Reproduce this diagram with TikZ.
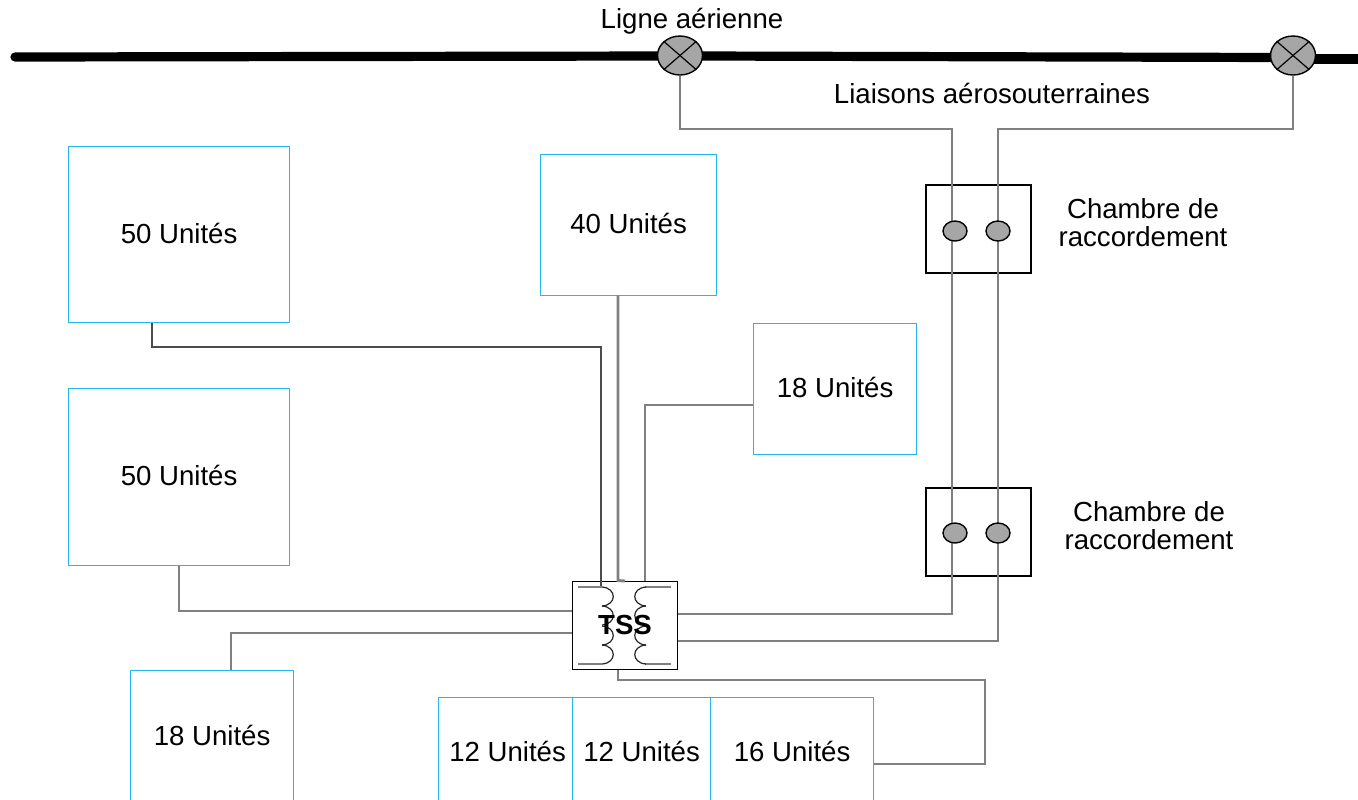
\documentclass[tikz,border=0pt]{standalone}
\usepackage{fontspec}
\setmainfont{Liberation Sans}
\usepackage{tikz}
\usetikzlibrary{shapes.geometric}
\definecolor{gris}{HTML}{808080}
\definecolor{contour}{HTML}{29B6EC}
\definecolor{rempli}{HTML}{A6A6A6}
\newcommand{\etiq}[3]{\hspace{#1}\raisebox{#2}{#3}}

\begin{document}
\begin{tikzpicture}[
	x=0.5pt, y=-0.5pt,
	% styles communs du schéma
	every node/.style={font=\fontsize{13.8}{14}\selectfont},
	unite/.style={draw=contour, line width=0.6pt, inner sep=0pt, anchor=north west},
	chambre/.style={draw=black, line width=0.6pt, inner sep=0pt, minimum width=52.5pt, minimum height=44pt},
	borne/.style={shape=ellipse, draw=black, fill=rempli, line width=0.7pt, inner sep=0pt},
	ligne/.style={line width=4.6pt, line cap=round},
	fil/.style={draw=gris, line width=1.45pt},
	filnoir/.style={draw=black!70, line width=0.6pt},
	spire/.style={black!85, line width=0.6pt},
	texte/.style={align=center, inner sep=0pt}
	]

	\useasboundingbox (0,0) rectangle (1358,799);

	% ----- 1. Ligne aérienne -----
	\draw[ligne] (15,57) -- (670,56);
	\draw[ligne] (700,56) -- (1280,57.5);
	\draw[ligne] (1312,59) -- (1370,59);

	% ----- 2. Points de raccordement sur la ligne -----
	\node[borne, minimum width=22.5pt, minimum height=19.5pt] (P1) at (680,55.5) {};
	\node[borne, minimum width=22.5pt, minimum height=19.5pt] (P2) at (1293,55.5) {};
	\foreach \p in {P1,P2} {
		\draw[line width=0.6pt] (\p.north west) -- (\p.south east);
		\draw[line width=0.6pt] (\p.north east) -- (\p.south west);
	}

	% ----- 3. Boîtes d'unités -----
	\node[unite, minimum width=110.5pt, minimum height=88pt] (U1) at (67.5,145.5) {\etiq{0.5pt}{1.2pt}{50 Unités}};
	\node[unite, minimum width=110.5pt, minimum height=88.5pt] (U2) at (67.5,387.5) {\etiq{0.5pt}{1.2pt}{50 Unités}};
	\node[unite, minimum width=88pt, minimum height=70.5pt] (U3) at (539.5,153.5) {\etiq{0.5pt}{1.6pt}{40 Unités}};
	\node[unite, minimum width=81.5pt, minimum height=65.5pt] (U4) at (752.5,322.5) {\etiq{0.5pt}{1.4pt}{18 Unités}};
	\node[unite, minimum width=81.5pt, minimum height=66.5pt] (U5) at (129.5,669.5) {\etiq{0.5pt}{1pt}{18 Unités}};
	\node[unite, minimum width=67pt, minimum height=54pt] (U6) at (437.5,696.5) {\etiq{2.5pt}{0pt}{12 Unités}};
	\node[unite, minimum width=69pt, minimum height=54pt] (U7) at (571.5,696.5) {\etiq{0.5pt}{0pt}{12 Unités}};
	\node[unite, minimum width=81.5pt, minimum height=54pt] (U8) at (709.5,696.5) {\etiq{0.5pt}{0pt}{16 Unités}};

	% ----- 4. Chambres de raccordement -----
	\node[chambre] (C1) at (978.5,229) {};
	\node[chambre] (C2) at (978.5,532) {};
	\node[texte] (T1) at (1143,223) {Chambre de\\raccordement};
	\node[texte] (T2) at (1149,526) {Chambre de\\raccordement};
	\node[texte] (L1) at (692,21.5) {Ligne aérienne};
	\node[texte] (L2) at (992,93) {Liaisons aérosouterraines};

	% ----- 5. Poste TSS -----
	\node[draw=black, line width=0.5pt, fill=white, minimum width=52.5pt, minimum height=44pt, inner sep=0pt] (TSS) at (624.5,625) {};

	% ----- 6. Liaisons -----
	\draw[fil] (P1.south) |- (952,129) -- (952,614) -- (TSS.east |- 0,614);
	\draw[fil] (P2.south) |- (998,129) -- (998,641) -- (TSS.east |- 0,641);
	\draw[filnoir] (152,0 |- U1.south) |- (601,347) -- (601,587);
	\draw[fil] (618,0 |- U3.south) -- (618,0 |- TSS.north) -- (625,581);
	\draw[fil] (U4.west |- 0,405) -| (645,0 |- TSS.north);
	\draw[fil] (179,0 |- U2.south) |- (TSS.west |- 0,611);
	\draw[fil] (231,0 |- U5.north) |- (TSS.west |- 0,633);
	\draw[fil] (618,0 |- TSS.south) |- (985,680) |- (U8.east |- 0,764);

	% ----- 7. Enroulements du transformateur -----
	\draw[fil, line width=0.9pt] (578,587) -- (602,587);
	\draw[fil, line width=0.9pt] (578,664) -- (602,664);
	\draw[fil, line width=0.9pt] (671,587) -- (645,587);
	\draw[fil, line width=0.9pt] (671,664) -- (645,664);
	\foreach \y in {587,606,626,645} {
		\draw[spire] (602,\y) .. controls (617,\y+1) and (617,\y+18) .. (602,\y+19);
		\draw[spire] (646,\y) .. controls (631,\y+1) and (631,\y+18) .. (646,\y+19);
	}
	\node[inner sep=0pt, font=\fontsize{13.8}{14}\selectfont\bfseries] (N) at (625,624.5) {TSS};

	% ----- 8. Bornes des chambres -----
	\foreach \a/\x/\y in {a/955/231, b/998/231, c/955/533, d/998/533} {
		\node[borne, minimum width=12pt, minimum height=10pt] (B\a) at (\x,\y) {};
	}

\end{tikzpicture}
\end{document}
